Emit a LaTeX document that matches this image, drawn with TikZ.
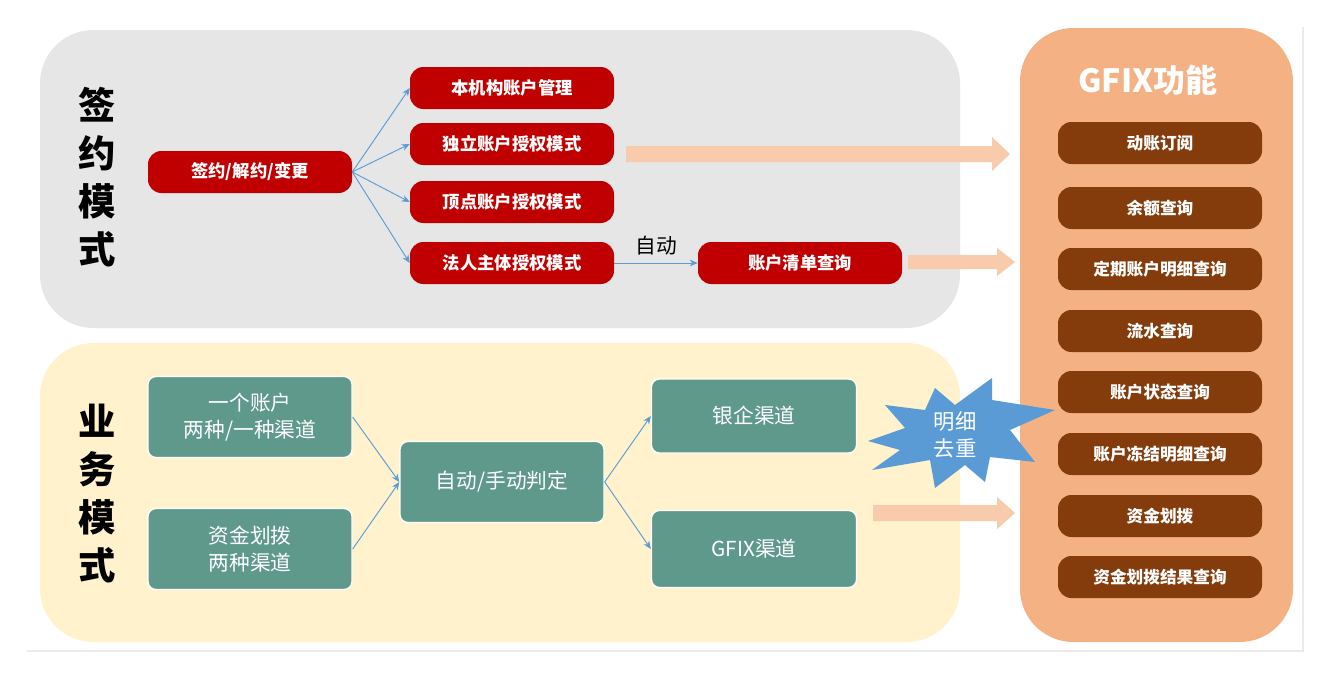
\documentclass[tikz,border=0pt]{standalone}
\usepackage{fontspec}
\setmainfont{Noto Sans CJK SC}
\usetikzlibrary{arrows.meta}
\definecolor{gbg}{HTML}{E6E6E6}
\definecolor{ybg}{HTML}{FFF2CC}
\definecolor{obg}{HTML}{F4B183}
\definecolor{redp}{HTML}{C00000}
\definecolor{brp}{HTML}{843C0C}
\definecolor{teal}{HTML}{5F998B}
\definecolor{bl}{HTML}{5B9BD5}
\definecolor{peach}{HTML}{F8CBAD}
\newlength{\pxu}\setlength{\pxu}{0.75pt}
\tikzset{
 redpill/.style={rounded corners=10pt,fill=redp,text=white,font=\bfseries\fontsize{13}{13}\selectfont,minimum width=204\pxu,minimum height=42\pxu,inner sep=0pt},
 brpill/.style={rounded corners=10pt,fill=brp,text=white,font=\bfseries\fontsize{12.5}{13}\selectfont,minimum width=204\pxu,minimum height=42\pxu,inner sep=0pt},
 tbox/.style={rounded corners=6pt,fill=teal,draw=white,line width=1pt,text=white,font=\fontsize{15.5}{20}\selectfont,align=center,inner sep=0pt},
 barr/.style={draw=bl,-{Stealth[length=6pt,width=5pt]},line width=0.7pt},
 fat/.style={fill=peach,draw=none},
 title/.style={font=\bfseries\fontsize{28}{36}\selectfont,align=center},
}
\begin{document}
\begin{tikzpicture}[x=0.75pt,y=-0.75pt]
\useasboundingbox (0,0) rectangle (1327,675);
\fill[black!8] (27,27) rectangle (1304,652);
\fill[white] (25,25) rectangle (1302,650);
\fill[gbg,rounded corners=40pt] (40,30) rectangle (960,328);
\fill[ybg,rounded corners=40pt] (40,343) rectangle (960,642);
\fill[obg,rounded corners=40pt] (1020,28) rectangle (1293,642);
\node[title] (t1) at (97,177) {签\\约\\模\\式};
\node[title] (t2) at (97,494) {业\\务\\模\\式};
\node[font=\bfseries\fontsize{24}{24}\selectfont,text=white] (gt) at (1148,80) {GFIX功能};
% fat arrows
\fill[fat] (626,146)--(992,146)--(992,137)--(1010,154)--(992,171)--(992,162)--(626,162)--cycle;
\fill[fat] (908,255)--(997,255)--(997,248)--(1015,262)--(997,276)--(997,269)--(908,269)--cycle;
\fill[fat] (873,505)--(997,505)--(997,497)--(1015,513)--(997,529)--(997,521)--(873,521)--cycle;
% red pills
\node[redpill] (s) at (250,172) {签约/解约/变更};
\node[redpill] (a) at (512,88) {本机构账户管理};
\node[redpill] (b) at (512,144) {独立账户授权模式};
\node[redpill] (c) at (512,202) {顶点账户授权模式};
\node[redpill] (d) at (512,263) {法人主体授权模式};
\node[redpill] (e) at (800,263) {账户清单查询};
\foreach \n in {a,b,c,d}{\draw[barr] (s.east) -- (\n.west);}
\draw[barr] (d) -- node[above,font=\fontsize{15.5}{16}\selectfont,text=black,yshift=2pt]{自动} (e);
% teal
\node[tbox,minimum width=204\pxu,minimum height=81\pxu] (u1) at (250,417) {一个账户\\两种/一种渠道};
\node[tbox,minimum width=204\pxu,minimum height=81\pxu] (u2) at (250,549) {资金划拨\\两种渠道};
\node[tbox,minimum width=204\pxu,minimum height=81\pxu] (m) at (502,482) {自动/手动判定};
\node[tbox,minimum width=205\pxu,minimum height=74\pxu] (y1) at (754,416) {银企渠道};
\node[tbox,minimum width=205\pxu,minimum height=77\pxu] (y2) at (754,549) {GFIX渠道};
\draw[barr] (u1.east) -- (m.west);
\draw[barr] (u2.east) -- (m.west);
\draw[barr] (m.east) -- (y1.west);
\draw[barr] (m.east) -- (y2.west);
% starburst
\fill[bl] (868,441)--(905,428)--(885,405)--(925,410)--(935,388)--(955,405)--(992,378)--(992,400)--(1055,410)--(1010,430)--(1035,462)--(990,457)--(985,482)--(965,465)--(935,488)--(930,460)--(872,470)--(900,450)--cycle;
\node[text=white,font=\fontsize{16}{20}\selectfont,align=center] (st) at (955,435) {明细\\去重};
% brown pills
\foreach \y/\t [count=\i] in {143/动账订阅,208/余额查询,269/定期账户明细查询,331/流水查询,392/账户状态查询,454/账户冻结明细查询,516/资金划拨,577/资金划拨结果查询}{
 \node[brpill] (g\i) at (1160,\y) {\t};}
\end{tikzpicture}
\end{document}
